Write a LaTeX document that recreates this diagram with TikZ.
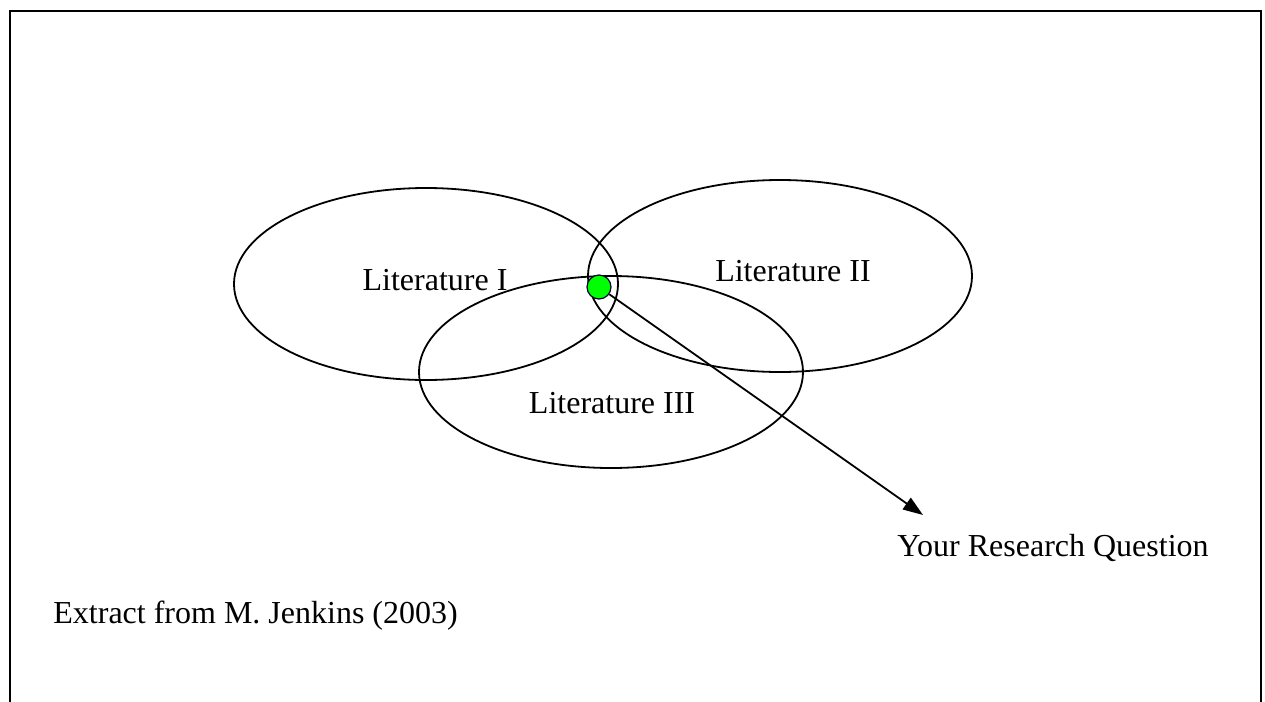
\documentclass[tikz,border=0pt]{standalone}
\usepackage{fontspec}
\setmainfont{Liberation Serif}
\usepackage{tikz}
\usetikzlibrary{arrows.meta,shapes.geometric}
\definecolor{ink}{HTML}{000000}
\definecolor{dotgreen}{HTML}{00FF00}
\definecolor{dotrim}{HTML}{000033}
\tikzset{
  frame/.style={draw=ink, line width=1pt},
  lit/.style={ellipse, draw=ink, line width=0.9pt, inner sep=0pt,
    minimum width=192pt, minimum height=96pt},
  rqdot/.style={circle, fill=dotgreen, draw=dotrim, line width=0.6pt,
    minimum size=12pt, inner sep=0pt},
  pointer/.style={draw=ink, line width=0.9pt, -{Triangle[length=10pt,width=7pt]}},
  lab/.style={font=\fontsize{16}{19}\selectfont, inner sep=0pt}
}

\begin{document}
\begin{tikzpicture}[x=0.5pt, y=-0.5pt]
  \useasboundingbox (0,0) rectangle (1265,702);
  \draw[frame] (10,702) -- (10,11) -- (1261,11) -- (1261,702);

  \node[lit] (litI) at (426,284) {};
  \node[lit] (litII) at (780,276) {};
  \node[lit] (litIII) at (611,372) {};

  \node[lab] (labI) at (435,280) {Literature I};
  \node[lab] (labII) at (793,271) {Literature II};
  \node[lab] (labIII) at (612,403) {Literature III};

  \node[rqdot] (rq) at (599,287) {};
  \coordinate (tip) at (923,515);
  \draw[pointer] (rq) -- (tip);

  \node[lab, anchor=base] (rqlab) at (1053,556) {Your Research Question};
  \node[lab, anchor=base west] (src) at (53,623) {Extract from M. Jenkins (2003)};
\end{tikzpicture}
\end{document}
